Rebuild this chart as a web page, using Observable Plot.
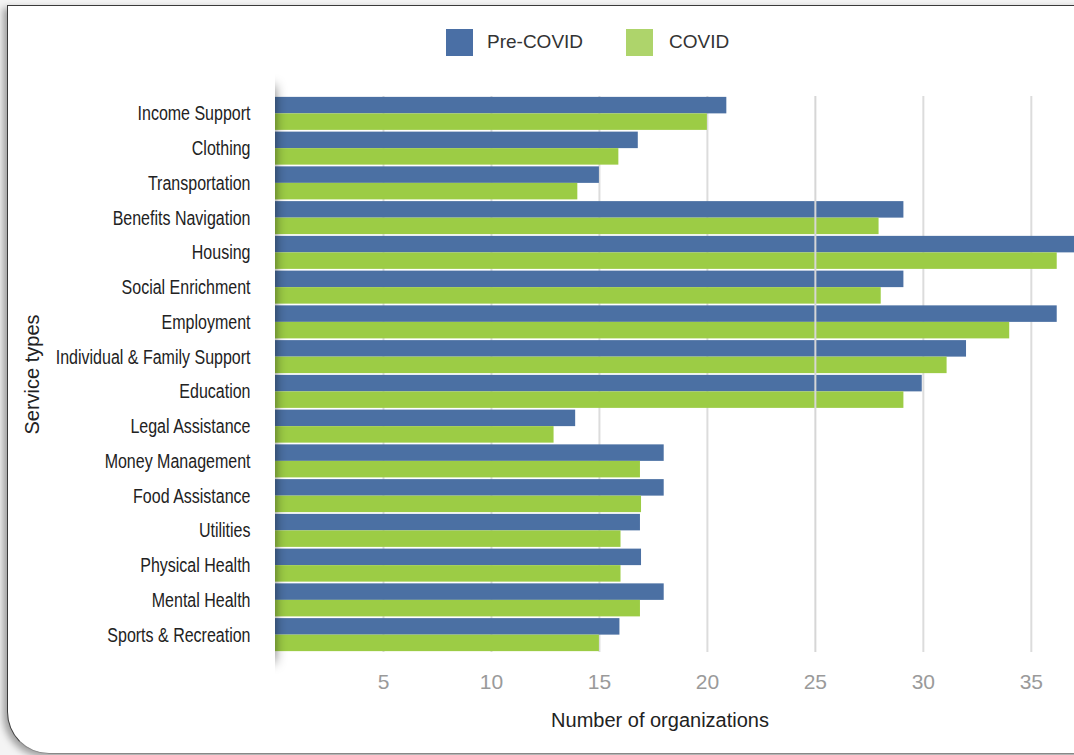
<!DOCTYPE html>
<html>
<head>
<meta charset="utf-8">
<script src="https://cdn.jsdelivr.net/npm/d3@7"></script>
<script src="https://cdn.jsdelivr.net/npm/@observablehq/plot@0.6"></script>
<style>
  html, body { margin: 0; padding: 0; overflow: hidden; background: #f4f4f4; }
  #wrap { position: relative; width: 1074px; height: 755px; overflow: hidden; }
  #frame {
    position: absolute; left: 7px; top: 5px; width: 1110px; height: 747px;
    background: #fff; border: 1.5px solid #3a3a3a; border-bottom-color: #888;
    border-bottom-left-radius: 42px;
    box-shadow: -4px 3px 7px rgba(0,0,0,0.35);
  }
  #legend { position: relative; height: 70px; font-family: "Liberation Sans", Arial, sans-serif; font-size: 19px; color: #333; }
  .sw { position: absolute; top: 29px; width: 27px; height: 27px; }
  .lt { position: absolute; top: 30px; line-height: 24px; }
  #chart { position: relative; }
</style>
</head>
<body>
<div id="wrap">
  <div id="frame"></div>
  <div id="legend"></div>
  <div id="chart"></div>
</div>
<script>
const categories = [
  "Income Support", "Clothing", "Transportation", "Benefits Navigation", "Housing",
  "Social Enrichment", "Employment", "Individual & Family Support", "Education",
  "Legal Assistance", "Money Management", "Food Assistance", "Utilities",
  "Physical Health", "Mental Health", "Sports & Recreation"
];
const series = ["Pre-COVID", "COVID"];
const preCovid = [20.9, 16.8, 15.0, 29.1, 37.6, 29.1, 36.2, 32.0, 29.95, 13.9, 18.0, 18.0, 16.9, 16.95, 18.0, 15.95];
const covid    = [20.0, 15.9, 14.0, 27.95, 36.2, 28.05, 34.0, 31.1, 29.1, 12.9, 16.9, 16.95, 16.0, 16.0, 16.9, 15.0];
const xTicks = [5, 10, 15, 20, 25, 30, 35];
const xLabel = "Number of organizations";
const yLabel = "Service types";

const barColors = ["#4b70a3", "#9ccc45"];
const legendColors = ["#4a6fa5", "#aed46b"];

// legend (HTML, above the SVG)
const legend = document.getElementById("legend");
const legendPos = [[446, 487], [626, 669]];
series.forEach((s, i) => {
  const sw = document.createElement("div");
  sw.className = "sw"; sw.style.left = legendPos[i][0] + "px"; sw.style.background = legendColors[i];
  const t = document.createElement("div");
  t.className = "lt"; t.style.left = legendPos[i][1] + "px"; t.textContent = s;
  legend.append(sw, t);
});

const pre = categories.map((c, i) => ({cat: c, value: preCovid[i]}));
const cov = categories.map((c, i) => ({cat: c, value: covid[i]}));

const H = 685, MT = 26, MB = 103, ML = 275;
const padInner = 0.05, padOuter = 0.025;
const step = (H - MT - MB) / (categories.length - padInner + 2 * padOuter);
const half = step * (1 - padInner) / 2;

const plot = Plot.plot({
  width: 1074, height: H,
  marginTop: MT, marginBottom: MB, marginLeft: ML, marginRight: 0,
  style: {background: "transparent", fontFamily: '"Liberation Sans", Arial, sans-serif', overflow: "hidden"},
  x: {domain: [0, 37.0], axis: null},
  y: {domain: categories, paddingInner: padInner, paddingOuter: padOuter, round: false, axis: null},
  marks: [
    Plot.ruleX(xTicks.filter(d => d !== 25), {stroke: "#dcdcdc", strokeWidth: 2}),
    Plot.barX(pre, {x: "value", y: "cat", fill: barColors[0], insetBottom: half}),
    Plot.barX(cov, {x: "value", y: "cat", fill: barColors[1], insetTop: half}),
    Plot.ruleX([25], {stroke: "#d6d6d6", strokeWidth: 2}),
    Plot.axisX({ticks: xTicks, tickSize: 0, tickPadding: 22, fontSize: 21, color: "#9a9a9a", label: null}),
    Plot.axisY({tickSize: 0, tickPadding: 25, fontSize: 20, fill: "#222", label: null}),
    Plot.text([yLabel], {frameAnchor: "left", dx: -243, rotate: -90, fontSize: 20, fill: "#222", textAnchor: "middle", lineAnchor: "middle"}),
    Plot.text([xLabel], {frameAnchor: "bottom", dx: -15, dy: 68, fontSize: 20, fill: "#222", textAnchor: "middle", lineAnchor: "middle"})
  ]
});
document.getElementById("chart").append(plot);

const svg = d3.select(plot);

// condensed look for the category labels (horizontal squeeze around each label's anchor)
svg.selectAll('g[aria-label="y-axis tick label"] text').each(function() {
  const t = this.getAttribute("transform");
  if (t) {
    this.setAttribute("transform", t + " scale(0.8,1)");
  } else {
    const x = +(this.getAttribute("x") || 0), y = +(this.getAttribute("y") || 0);
    this.removeAttribute("x"); this.removeAttribute("y");
    this.setAttribute("transform", `translate(${x},${y}) scale(0.8,1)`);
  }
});

// soft shadow cast by the label panel onto the plot area
const x0 = ML;
const defs = svg.insert("defs", ":first-child");
defs.append("filter").attr("id", "blurShadow").attr("x", "-50%").attr("y", "-20%").attr("width", "200%").attr("height", "140%")
  .append("feGaussianBlur").attr("stdDeviation", 6);
defs.append("clipPath").attr("id", "rightOf")
  .append("rect").attr("x", x0).attr("y", 0).attr("width", 100).attr("height", H);
svg.append("g").attr("clip-path", "url(#rightOf)")
  .append("rect").attr("x", x0 - 30).attr("y", MT - 10).attr("width", 30).attr("height", H - MT - MB + 20)
  .attr("fill", "#000").attr("fill-opacity", 0.55).attr("filter", "url(#blurShadow)");
</script>
</body>
</html>
